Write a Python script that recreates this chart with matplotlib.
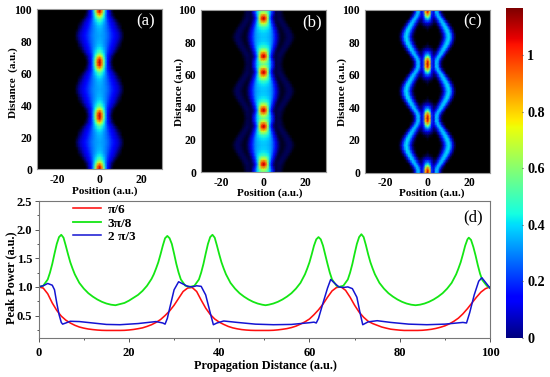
import numpy as np
import matplotlib
matplotlib.use("Agg")
import matplotlib.pyplot as plt
from matplotlib.colors import LinearSegmentedColormap

plt.rcParams['font.family'] = ['Liberation Serif', 'DejaVu Serif']
plt.rcParams['font.weight'] = 'bold'
plt.rcParams['axes.unicode_minus'] = False

W, H = 550, 377

# peak power curves
red_x = list(range(101))
red_y = [1.0,.98,.88,.72,.59,.49,.42,.37,.33,.30,.28,.265,.255,.247,.242,.24,.24,.24,.24,.242,
         .248,.257,.27,.285,.31,.34,.38,.43,.50,.58,.68,.80,.92,.98,.99,.92,.77,.63,.52,.44,
         .385,.345,.31,.285,.268,.255,.247,.242,.24,.24,.24,.24,.243,.25,.26,.272,.29,.315,.35,.39,
         .44,.515,.60,.70,.82,.93,.99,1.0,.94,.82,.68,.56,.47,.40,.36,.33,.30,.28,.262,.253,
         .245,.24,.24,.24,.24,.243,.25,.26,.275,.295,.32,.355,.40,.455,.53,.62,.72,.82,.91,.97,1.0]

green_pts = [(0,1.0),(1,1.02),(2,1.13),(2.5,1.25),(3,1.4),(3.5,1.58),(4,1.75),(4.5,1.87),(5,1.91),(5.5,1.86),
             (6,1.72),(6.5,1.57),(7,1.43),(7.5,1.32),(8,1.22),(9,1.07),(10,.97),(11,.89),(12,.83),(13,.78),
             (14,.74),(15,.71),(16,.69),(17,.68),(18,.70),(19,.72),(20,.76),(21,.81),(22,.86),(23,.93),
             (24,1.02),(25,1.14),(25.5,1.22),(26,1.32),(26.5,1.43),(27,1.57),(27.5,1.72),(28,1.85),(28.5,1.89),(29,1.85),
             (29.5,1.75),(30,1.58),(30.5,1.4),(31,1.25),(31.5,1.13),(32.5,1.02),(33.5,1.0),(34.5,1.02),(35.5,1.13),(36,1.25),
             (36.5,1.4),(37,1.58),(37.5,1.75),(38,1.87),(38.5,1.91),(39,1.86),(39.5,1.72),(40,1.57),(40.5,1.43),(41,1.32),
             (41.5,1.22),(42.5,1.07),(43.5,.97),(44.5,.89),(45.5,.83),(46.5,.78),(47.5,.74),(48.5,.71),(49.5,.69),(50.25,.68),
             (51,.69),(52,.71),(53,.74),(54,.78),(55,.83),(56,.89),(57,.97),(58,1.07),(59,1.22),(59.5,1.32),
             (60,1.43),(60.5,1.57),(61,1.72),(61.5,1.83),(62,1.87),(62.5,1.83),(63,1.72),(63.5,1.56),(64,1.4),(64.5,1.25),
             (65,1.13),(66,1.02),(66.5,1.0),(67.5,1.02),(68.5,1.13),(69,1.25),(69.5,1.4),(70,1.58),(70.5,1.75),(71,1.87),
             (71.5,1.92),(72,1.87),(72.5,1.73),(73,1.57),(73.5,1.43),(74,1.32),(74.5,1.22),(75.5,1.07),(76.5,.97),(77.5,.89),
             (78.5,.83),(79.5,.78),(80.5,.74),(81.5,.71),(82.5,.69),(83.5,.68),(84.5,.69),(85.5,.71),(86.5,.74),(87.5,.78),
             (88.5,.83),(89.5,.89),(90.5,.97),(91.5,1.07),(92.5,1.22),(93,1.32),(93.5,1.43),(94,1.57),(94.5,1.72),(95,1.83),
             (95.3,1.86),(95.8,1.82),(96.3,1.7),(96.8,1.55),(97.3,1.38),(97.8,1.23),(98.3,1.12),(99.3,1.02),(100,.98)]

blue_x = [0,1,2,3,3.5,4,4.5,5,5.3,6,7,9,12,15,18,22,26,27.5,28,28.5,29,30,31,32,33,34,35,36,37,38,38.7,
          39.5,41,44,48,52,56,60,61,61.5,62,63,64,64.7,65.5,66.5,67.5,68.5,69.5,70.5,71.2,71.8,73,75,78,82,86,90,
          94,94.8,95.5,96.5,97.5,98.2,99,100]
blue_y = [1.0,1.02,1.06,1.03,.95,.72,.52,.38,.35,.37,.40,.395,.37,.345,.34,.36,.395,.37,.35,.45,.62,.95,1.09,1.05,1.01,1.0,1.02,1.01,.86,.55,.34,
          .37,.405,.38,.35,.34,.345,.375,.385,.37,.45,.72,.98,1.13,1.07,1.0,.99,1.0,.97,.82,.55,.34,
          .39,.41,.38,.35,.34,.35,.38,.37,.55,.86,1.1,1.16,1.08,.98]

legend_labels = ['π/6', '3π/8', '2 π/3']

# half profiles of the intensity maps, rows are distance from the pulse centre
offset_rows = [0, 2, 4, 5, 6, 8, 10, 12, 14, 16.67]
pos_half = list(range(17))
period_centres = [0, 33.33, 66.67, 100]

map_a = [
    [1.12,.95,.62,.33,.14,.05,.01,0,0,0,0,0,0,0,0,0,0],
    [1.05,.90,.58,.33,.15,.06,.02,0,0,0,0,0,0,0,0,0,0],
    [.80,.68,.47,.30,.17,.08,.03,.01,0,0,0,0,0,0,0,0,0],
    [.65,.58,.44,.30,.18,.10,.05,.02,0,0,0,0,0,0,0,0,0],
    [.55,.50,.40,.30,.20,.12,.07,.03,.01,0,0,0,0,0,0,0,0],
    [.45,.42,.36,.30,.22,.16,.10,.06,.03,.01,0,0,0,0,0,0,0],
    [.39,.37,.33,.29,.24,.18,.13,.09,.05,.025,.01,0,0,0,0,0,0],
    [.36,.35,.32,.29,.25,.20,.15,.11,.07,.04,.02,0,0,0,0,0,0],
    [.35,.34,.32,.29,.26,.22,.17,.13,.09,.055,.03,.01,0,0,0,0,0],
    [.34,.33,.32,.30,.27,.23,.19,.15,.11,.075,.045,.02,0,0,0,0,0],
]
map_b = [
    [.55,.52,.48,.38,.22,.08,.015,.02,.015,.008,0,0,0,0,0,0,0],
    [.72,.68,.56,.38,.20,.06,.015,.02,.02,.01,0,0,0,0,0,0,0],
    [1.05,.95,.66,.32,.12,.03,.015,.02,.02,.012,.005,0,0,0,0,0,0],
    [1.12,1.0,.66,.30,.12,.03,.015,.02,.025,.015,.008,0,0,0,0,0,0],
    [1.05,.95,.64,.33,.15,.04,.015,.02,.025,.02,.01,0,0,0,0,0,0],
    [.74,.70,.56,.38,.20,.07,.02,.012,.02,.025,.02,.01,0,0,0,0,0],
    [.52,.50,.46,.38,.26,.12,.04,.012,.012,.02,.025,.02,.01,0,0,0,0],
    [.43,.42,.40,.36,.29,.17,.07,.025,.008,.012,.02,.025,.022,.01,0,0,0],
    [.39,.385,.37,.35,.30,.20,.09,.035,.012,.008,.015,.022,.025,.02,.008,0,0],
    [.37,.37,.36,.34,.30,.22,.11,.045,.015,.008,.01,.018,.025,.025,.015,.005,0],
]
map_c = [
    [1.12,.85,.20,.08,.36,.32,.07,.01,0,0,0,0,0,0,0,0,0],
    [1.02,.80,.22,.10,.36,.36,.12,.02,0,0,0,0,0,0,0,0,0],
    [.70,.50,.14,.08,.22,.38,.32,.10,.02,0,0,0,0,0,0,0,0],
    [.50,.36,.12,.05,.13,.32,.37,.22,.06,0,0,0,0,0,0,0,0],
    [.35,.27,.10,.03,.06,.22,.38,.35,.13,.02,0,0,0,0,0,0,0],
    [.12,.10,.05,.02,.02,.09,.25,.39,.36,.15,.03,0,0,0,0,0,0],
    [.03,.02,.01,0,0,.02,.11,.28,.40,.36,.15,.03,0,0,0,0,0],
    [.01,0,0,0,0,0,.03,.13,.31,.41,.35,.13,.03,0,0,0,0],
    [0,0,0,0,0,0,.01,.05,.20,.36,.41,.27,.08,.01,0,0,0],
    [0,0,0,0,0,0,0,.02,.11,.28,.40,.36,.16,.03,0,0,0],
]

panel_names = ['(a)', '(b)', '(c)']
ylabels = ['Distance  (a.u.)', 'Distance (a.u.)', 'Distance (a.u.)']
panel_boxes = [(37, 162, 9, 169), (201, 326, 10, 172), (365, 490, 9.5, 172.5)]
name_x = [146, 312, 473]
ylabel_px = [(13, 83), (179, 92), (342, 92)]
xlabel_px = [(105, 191), (270, 193), (432, 193)]


def add_ax(left, right, top, bottom):
    return fig.add_axes([left/W, 1-bottom/H, (right-left)/W, (bottom-top)/H])


def full_map(half):
    half = np.array(half)
    d = np.array(offset_rows)
    z, rows = [], []
    for c in period_centres:
        z += list(c-d[::-1]) + list(c+d[1:])
        rows += list(half[::-1]) + list(half[1:])
    z, idx = np.unique(np.round(z, 1), return_index=True)
    m = np.array(rows)[idx]
    keep = (z >= 0) & (z <= 100)
    m = m[keep]
    # mirror around position 0
    m = np.hstack([m[:, :0:-1], m])
    x = np.array(pos_half)
    return np.r_[-x[:0:-1], x], z[keep], m


jet = plt.get_cmap('jet')
vmax = 1.168
stops = [(0, (0, 0, 0)), (0.012, (0, 0, .25)), (0.05, (0, 0, .75))]
stops += [(t, jet(t)[:3]) for t in np.linspace(0.11, 1, 24)]
heat = LinearSegmentedColormap.from_list('heat', stops, N=512)

fig = plt.figure(figsize=(W/100, H/100), dpi=100)

for i in range(3):
    box = panel_boxes[i]
    ax = add_ax(*box)
    ax.set_facecolor('k')
    xx, zz, mm = full_map([map_a, map_b, map_c][i])
    ax.pcolormesh(xx, zz, mm, cmap=heat, vmin=0, vmax=vmax, shading='gouraud', rasterized=True)
    ax.set_xlim(-30, 30)
    ax.set_ylim(0, 100)
    ax.set_xticks([-20, 0, 20])
    ax.set_yticks([0, 20, 40, 60, 80, 100])
    ax.tick_params(length=0, labelsize=8.4)
    ax.tick_params(axis='x', pad=3.5)
    ax.tick_params(axis='y', pad=3.5)
    bw, bh = box[1]-box[0], box[3]-box[2]
    ax.set_xlabel('Position (a.u.)', fontsize=8, fontweight='bold', va='center')
    ax.xaxis.set_label_coords((xlabel_px[i][0]-box[0])/bw, (box[3]-xlabel_px[i][1])/bh)
    ax.set_ylabel(ylabels[i], fontsize=8, fontweight='bold', va='center')
    ax.yaxis.set_label_coords((ylabel_px[i][0]-box[0])/bw, (box[3]-ylabel_px[i][1])/bh)
    ax.text((name_x[i]-box[0])/bw, 0.925, panel_names[i], color='w', fontsize=12, fontweight='normal',
            transform=ax.transAxes, ha='center', va='center')
    for s in ax.spines.values():
        s.set_color('#999999')
        s.set_linewidth(0.8)

# colorbar
cax = add_ax(506, 522.3, 8, 338)
cax.imshow(np.linspace(0, 1, 256).reshape(-1, 1), cmap='jet', origin='lower', aspect='auto',
           extent=[0, 1, 0, vmax], interpolation='bilinear')
cax.set_xticks([])
cax.yaxis.tick_right()
cax.set_yticks([0, .2, .4, .6, .8, 1])
cax.set_yticklabels(['0', '0.2', '0.4', '0.6', '0.8', '1'])
cax.tick_params(axis='y', length=1, labelsize=10.2, pad=2.5, color='#555555')
for s in cax.spines.values():
    s.set_visible(False)

# panel d
green_x, green_y = zip(*green_pts)
ax = add_ax(38.7, 490, 201, 338)
ax.plot(red_x, red_y, color='#ff0f0f', lw=1.15, label=legend_labels[0])
ax.plot(green_x, green_y, color='#14e614', lw=1.3, label=legend_labels[1])
ax.plot(blue_x, blue_y, color='#1414d2', lw=1.1, label=legend_labels[2])
ax.set_xlim(0, 100)
ax.set_ylim(0.108, 2.5)
ax.set_xticks([0, 20, 40, 60, 80, 100])
ax.set_xticks([10, 30, 50, 70, 90], minor=True)
ax.set_yticks([.5, 1, 1.5, 2, 2.5])
ax.set_yticklabels(['0.5', '1.0', '1.5', '2.0', '2.5'])
ax.set_yticks([.25, .75, 1.25, 1.75, 2.25], minor=True)
ax.tick_params(which='major', length=3, width=.7, labelsize=9, color='#555555')
ax.tick_params(which='minor', length=1.5, width=.7, color='#555555')
ax.tick_params(axis='x', which='major', pad=3.5)
ax.tick_params(axis='y', which='major', pad=1.5)
ax.set_xlabel('Propagation Distance (a.u.)', fontsize=8.8, fontweight='bold', va='center')
ax.xaxis.set_label_coords((265-38.7)/451.3, (338-366)/137)
ax.set_ylabel('Peak Power (a.u.)', fontsize=8.8, fontweight='bold', va='center')
ax.yaxis.set_label_coords((11-38.7)/451.3, (338-278)/137)
ax.text(0.962, 0.883, '(d)', fontsize=12, fontweight='normal', transform=ax.transAxes, ha='center', va='center')
ax.legend(loc='upper left', bbox_to_anchor=(0.0753, 0.98), frameon=False, fontsize=9.5, borderpad=0,
          handlelength=2.12, labelspacing=0.1, handletextpad=0.53, borderaxespad=0)
for s in ax.spines.values():
    s.set_color('#777777')
    s.set_linewidth(0.8)

fig.savefig('out.png', dpi=100)
